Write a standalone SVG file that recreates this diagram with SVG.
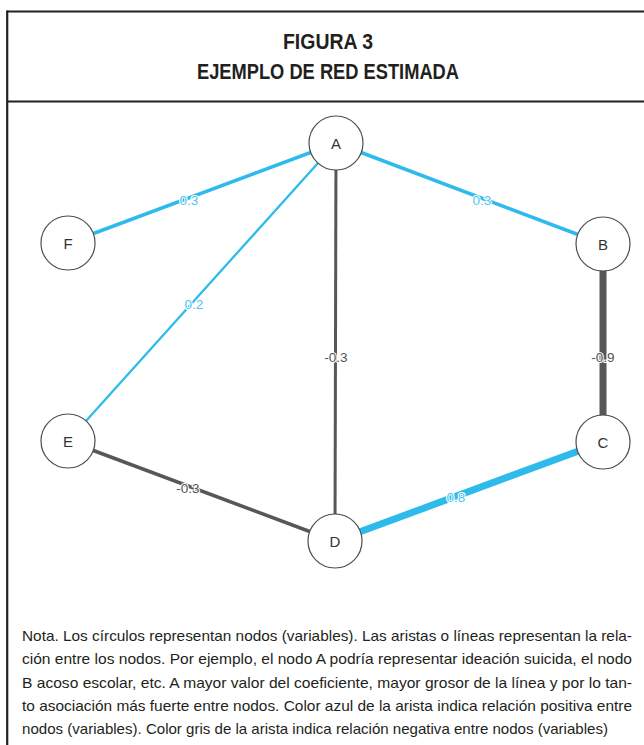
<svg xmlns="http://www.w3.org/2000/svg" width="644" height="745" viewBox="0 0 644 745">
<style>
.frame{stroke:#231f20;stroke-width:2.2;fill:none}
.title{font-family:"Liberation Sans",Arial,sans-serif;font-weight:bold;font-size:22px;fill:#231f20;text-anchor:middle}
.note{font-family:"Liberation Sans",Arial,sans-serif;font-size:14.5px;fill:#231f20}
.pos{stroke:#2ebbeb;fill:none;stroke-linecap:butt}
.neg{stroke:#575757;fill:none;stroke-linecap:butt}
.node circle{fill:#ffffff;stroke:#4d4d4d;stroke-width:1.2}
.node text{font-family:"Liberation Sans",Arial,sans-serif;font-size:15px;fill:#333333;text-anchor:middle}
.lbl{font-family:"Liberation Sans",Arial,sans-serif;font-size:13.5px;text-anchor:middle;paint-order:stroke;stroke:#ffffff;stroke-width:2}
.lp{fill:#4cc6f0}
.ln{fill:#555555}
</style>
<rect width="644" height="745" fill="#ffffff"/>
<g id="frame">
<line class="frame" x1="7" y1="11.5" x2="644" y2="11.5"/>
<line class="frame" x1="7.2" y1="10.4" x2="7.2" y2="745"/>
<line class="frame" x1="7" y1="101.5" x2="644" y2="101.5"/>
</g>
<g id="title">
<text class="title" x="328" y="49" textLength="90" lengthAdjust="spacingAndGlyphs">FIGURA 3</text>
<text class="title" x="328" y="79" textLength="262" lengthAdjust="spacingAndGlyphs">EJEMPLO DE RED ESTIMADA</text>
</g>
<g id="connectors">
<line class="pos" x1="336" y1="143" x2="68" y2="243" stroke-width="3.5"/>
<line class="pos" x1="336" y1="143" x2="603" y2="244" stroke-width="3.5"/>
<line class="pos" x1="336" y1="143" x2="68" y2="441" stroke-width="2.3"/>
<line class="neg" x1="336" y1="143" x2="335" y2="541" stroke-width="3"/>
<line class="neg" x1="603" y1="244" x2="603" y2="442" stroke-width="7"/>
<line class="neg" x1="68" y1="441" x2="335" y2="541" stroke-width="3.5"/>
<line class="pos" x1="335" y1="541" x2="603" y2="442" stroke-width="7"/>
<text class="lbl lp" x="189" y="205">0.3</text>
<text class="lbl lp" x="482" y="205">0.3</text>
<text class="lbl lp" x="194" y="309">0.2</text>
<text class="lbl ln" x="336" y="362">-0.3</text>
<text class="lbl ln" x="603" y="362">-0.9</text>
<text class="lbl ln" x="188" y="493">-0.3</text>
<text class="lbl lp" x="456" y="502">0.8</text>
</g>
<g id="node-A" class="node"><circle cx="336" cy="143" r="27"/><text x="336" y="148.5">A</text></g>
<g id="node-B" class="node"><circle cx="603" cy="244" r="27"/><text x="603" y="249.5">B</text></g>
<g id="node-C" class="node"><circle cx="603" cy="442" r="27"/><text x="603" y="447.5">C</text></g>
<g id="node-D" class="node"><circle cx="335" cy="541" r="27"/><text x="335" y="546.5">D</text></g>
<g id="node-E" class="node"><circle cx="68" cy="441" r="27"/><text x="68" y="446.5">E</text></g>
<g id="node-F" class="node"><circle cx="68" cy="243" r="27"/><text x="68" y="248.5">F</text></g>
<g id="note">
<text class="note" x="22" y="641" textLength="610" lengthAdjust="spacingAndGlyphs">Nota. Los círculos representan nodos (variables). Las aristas o líneas representan la rela-</text>
<text class="note" x="22" y="664" textLength="610" lengthAdjust="spacingAndGlyphs">ción entre los nodos. Por ejemplo, el nodo A podría representar ideación suicida, el nodo</text>
<text class="note" x="22" y="688" textLength="610" lengthAdjust="spacingAndGlyphs">B acoso escolar, etc. A mayor valor del coeficiente, mayor grosor de la línea y por lo tan-</text>
<text class="note" x="22" y="711" textLength="610" lengthAdjust="spacingAndGlyphs">to asociación más fuerte entre nodos. Color azul de la arista indica relación positiva entre</text>
<text class="note" x="22" y="734" textLength="586" lengthAdjust="spacingAndGlyphs">nodos (variables). Color gris de la arista indica relación negativa entre nodos (variables)</text>
</g>
</svg>
